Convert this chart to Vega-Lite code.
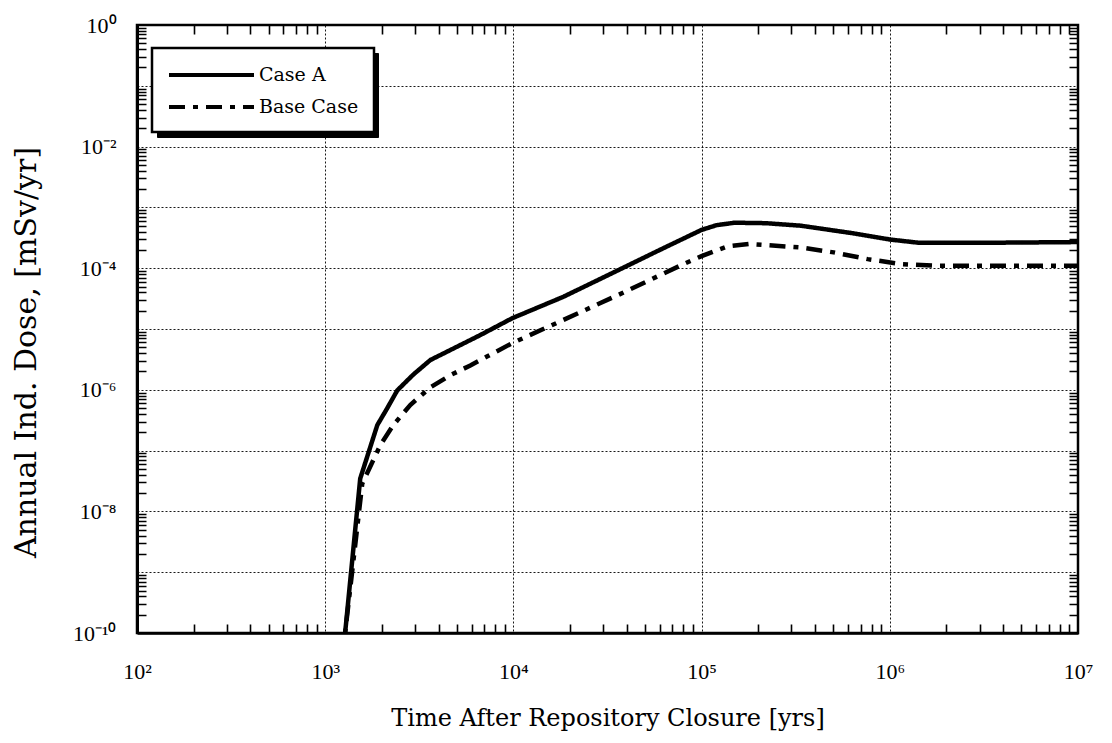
{
  "$schema": "https://vega.github.io/schema/vega-lite/v6.json",
  "width": 941,
  "height": 608,
  "autosize": {"type": "none"},
  "padding": {"left": 137, "top": 25, "right": 34, "bottom": 110},
  "background": "white",
  "config": {
    "view": {"stroke": "black", "strokeWidth": 2.5},
    "axis": {
      "domainColor": "black",
      "tickColor": "black",
      "labelColor": "black",
      "titleColor": "black",
      "labelFont": "Liberation Serif",
      "titleFont": "DejaVu Serif",
      "titleFontWeight": "normal"
    },
    "legend": {"labelFont": "DejaVu Serif"}
  },
  "data": {
    "values": [
      {"series": "Case A", "t": 1202, "dose": 3.98e-11},
      {"series": "Case A", "t": 1276, "dose": 1e-10},
      {"series": "Case A", "t": 1535, "dose": 3.47e-8},
      {"series": "Case A", "t": 1892, "dose": 2.63e-7},
      {"series": "Case A", "t": 2138, "dose": 5.0e-7},
      {"series": "Case A", "t": 2415, "dose": 9.77e-7},
      {"series": "Case A", "t": 2938, "dose": 1.78e-6},
      {"series": "Case A", "t": 3622, "dose": 3.09e-6},
      {"series": "Case A", "t": 6668, "dose": 7.94e-6},
      {"series": "Case A", "t": 9886, "dose": 1.51e-5},
      {"series": "Case A", "t": 18450, "dose": 3.39e-5},
      {"series": "Case A", "t": 34040, "dose": 8.51e-5},
      {"series": "Case A", "t": 60000, "dose": 2.0e-4},
      {"series": "Case A", "t": 100000, "dose": 4.27e-4},
      {"series": "Case A", "t": 120000, "dose": 5.1e-4},
      {"series": "Case A", "t": 150000, "dose": 5.6e-4},
      {"series": "Case A", "t": 220000, "dose": 5.5e-4},
      {"series": "Case A", "t": 336500, "dose": 5.0e-4},
      {"series": "Case A", "t": 620900, "dose": 3.8e-4},
      {"series": "Case A", "t": 1012000, "dose": 2.95e-4},
      {"series": "Case A", "t": 1409000, "dose": 2.63e-4},
      {"series": "Case A", "t": 3890000, "dose": 2.63e-4},
      {"series": "Case A", "t": 10000000, "dose": 2.69e-4},
      {"series": "Base Case", "t": 1202, "dose": 3.98e-11},
      {"series": "Base Case", "t": 1276, "dose": 1e-10},
      {"series": "Base Case", "t": 1574, "dose": 2.88e-8},
      {"series": "Base Case", "t": 1963, "dose": 1.23e-7},
      {"series": "Base Case", "t": 2301, "dose": 2.63e-7},
      {"series": "Base Case", "t": 2831, "dose": 5.62e-7},
      {"series": "Base Case", "t": 3622, "dose": 1.1e-6},
      {"series": "Base Case", "t": 4624, "dose": 1.74e-6},
      {"series": "Base Case", "t": 5902, "dose": 2.51e-6},
      {"series": "Base Case", "t": 7278, "dose": 3.55e-6},
      {"series": "Base Case", "t": 9886, "dose": 5.89e-6},
      {"series": "Base Case", "t": 18450, "dose": 1.41e-5},
      {"series": "Base Case", "t": 38460, "dose": 3.98e-5},
      {"series": "Base Case", "t": 80170, "dose": 1.17e-4},
      {"series": "Base Case", "t": 100000, "dose": 1.58e-4},
      {"series": "Base Case", "t": 137400, "dose": 2.29e-4},
      {"series": "Base Case", "t": 177800, "dose": 2.51e-4},
      {"series": "Base Case", "t": 336500, "dose": 2.19e-4},
      {"series": "Base Case", "t": 503500, "dose": 1.82e-4},
      {"series": "Base Case", "t": 763800, "dose": 1.41e-4},
      {"series": "Base Case", "t": 1146000, "dose": 1.17e-4},
      {"series": "Base Case", "t": 1714000, "dose": 1.1e-4},
      {"series": "Base Case", "t": 3890000, "dose": 1.1e-4},
      {"series": "Base Case", "t": 10000000, "dose": 1.1e-4}
    ]
  },
  "mark": {"type": "line", "clip": true, "strokeWidth": 4.5, "strokeCap": "butt"},
  "encoding": {
    "x": {
      "field": "t", "type": "quantitative",
      "scale": {"type": "log", "domain": [100, 10000000], "nice": false},
      "axis": {
        "orient": "bottom",
        "values": [100, 200, 300, 400, 500, 600, 700, 800, 900, 1000, 2000, 3000, 4000, 5000, 6000, 7000, 8000, 9000, 10000, 20000, 30000, 40000, 50000, 60000, 70000, 80000, 90000, 100000, 200000, 300000, 400000, 500000, 600000, 700000, 800000, 900000, 1000000, 2000000, 3000000, 4000000, 5000000, 6000000, 7000000, 8000000, 9000000, 10000000],
        "labelExpr": "abs(log(datum.value)/LN10 - round(log(datum.value)/LN10)) < 0.001 ? ['10²','10³','10⁴','10⁵','10⁶','10⁷'][round(log(datum.value)/LN10)-2] : ''",
        "grid": true, "gridColor": "black",
        "gridDash": {"condition": {"test": "abs(log(datum.value)/LN10 - round(log(datum.value)/LN10)) < 0.001", "value": [2, 2]}, "value": [9, 590]},
        "gridWidth": {"condition": {"test": "abs(log(datum.value)/LN10 - round(log(datum.value)/LN10)) < 0.001", "value": 1}, "value": 1.6},
        "gridOpacity": {"condition": {"test": "abs(log(datum.value)/LN10 - round(log(datum.value)/LN10)) < 0.001", "value": 0.9}, "value": 1},
        "ticks": false, "tickSize": 0,
        "domain": true, "domainWidth": 2.5,
        "labelFontSize": 22, "labelPadding": 28, "labelFlush": false, "labelOverlap": false,
        "title": "Time After Repository Closure [yrs]",
        "titleFontSize": 24, "titlePadding": 24
      }
    },
    "y": {
      "field": "dose", "type": "quantitative",
      "scale": {"type": "log", "domain": [1e-10, 1], "nice": false},
      "axis": {
        "orient": "left",
        "values": [1e-10, 2e-10, 3e-10, 4e-10, 5e-10, 6e-10, 7e-10, 8e-10, 9e-10, 1e-9, 2e-9, 3e-9, 4e-9, 5e-9, 6e-9, 7e-9, 8e-9, 9e-9, 1e-8, 2e-8, 3e-8, 4e-8, 5e-8, 6e-8, 7e-8, 8e-8, 9e-8, 1e-7, 2e-7, 3e-7, 4e-7, 5e-7, 6e-7, 7e-7, 8e-7, 9e-7, 1e-6, 2e-6, 3e-6, 4e-6, 5e-6, 6e-6, 7e-6, 8e-6, 9e-6, 1e-5, 2e-5, 3e-5, 4e-5, 5e-5, 6e-5, 7e-5, 8e-5, 9e-5, 1e-4, 2e-4, 3e-4, 4e-4, 5e-4, 6e-4, 7e-4, 8e-4, 9e-4, 1e-3, 2e-3, 3e-3, 4e-3, 5e-3, 6e-3, 7e-3, 8e-3, 9e-3, 0.01, 0.02, 0.03, 0.04, 0.05, 0.06, 0.07, 0.08, 0.09, 0.1, 0.2, 0.3, 0.4, 0.5, 0.6, 0.7, 0.8, 0.9, 1],
        "labelExpr": "abs(log(datum.value)/LN10 - round(log(datum.value)/LN10)) < 0.001 ? ['10⁻¹⁰','','10⁻⁸','','10⁻⁶','','10⁻⁴','','10⁻²','','10⁰'][round(log(datum.value)/LN10)+10] : ''",
        "grid": true, "gridColor": "black",
        "gridDash": {"condition": {"test": "abs(log(datum.value)/LN10 - round(log(datum.value)/LN10)) < 0.001", "value": [2, 2]}, "value": [9, 923]},
        "gridWidth": {"condition": {"test": "abs(log(datum.value)/LN10 - round(log(datum.value)/LN10)) < 0.001", "value": 1}, "value": 1.6},
        "gridOpacity": {"condition": {"test": "abs(log(datum.value)/LN10 - round(log(datum.value)/LN10)) < 0.001", "value": 0.9}, "value": 1},
        "ticks": false, "tickSize": 0,
        "domain": true, "domainWidth": 3,
        "labelFontSize": 22, "labelPadding": 21, "labelFlush": false, "labelOverlap": false,
        "title": "Annual Ind. Dose, [mSv/yr]",
        "titleFontSize": 30, "titlePadding": 31, "titleY": 327
      }
    },
    "stroke": {
      "field": "series", "type": "nominal",
      "scale": {"domain": ["Base Case", "Case A"], "range": ["black", "black"]},
      "legend": {
        "title": null,
        "orient": "none",
        "legendX": 20,
        "legendY": 28,
        "symbolType": "M-1,0H7.5",
        "symbolSize": 400,
        "symbolStrokeWidth": 4,
        "labelExpr": "''",
        "labelFontSize": 19,
        "labelOffset": 167,
        "rowPadding": 10,
        "padding": 15,
        "strokeColor": "black",
        "fillColor": "black"
      }
    },
    "strokeDash": {
      "field": "series", "type": "nominal",
      "scale": {"domain": ["Case A", "Base Case"], "range": [[1, 0], [16, 8, 5, 8]]},
      "legend": {
        "title": null,
        "orient": "none",
        "legendX": 15,
        "legendY": 23,
        "symbolType": "M-1,0H7.5",
        "symbolSize": 400,
        "symbolStrokeWidth": 4,
        "symbolStrokeColor": "black",
        "labelFont": "DejaVu Serif",
        "labelFontSize": 19,
        "labelColor": "black",
        "labelOffset": 68,
        "rowPadding": 10,
        "padding": 15,
        "strokeColor": "black",
        "fillColor": "white",
        "encode": {"legend": {"update": {"strokeWidth": {"value": 2.5}}}}
      }
    }
  }
}
